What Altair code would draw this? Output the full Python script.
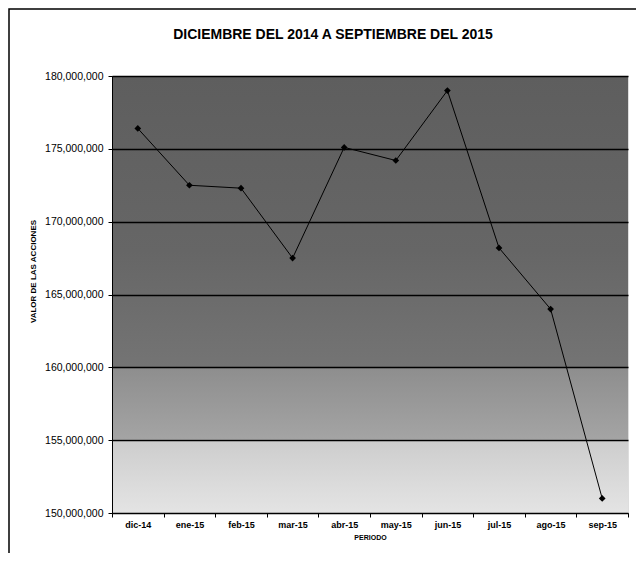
import altair as alt
import pandas as pd

titulo = "DICIEMBRE DEL 2014 A SEPTIEMBRE DEL 2015"
periodos = ["dic-14", "ene-15", "feb-15", "mar-15", "abr-15", "may-15",
            "jun-15", "jul-15", "ago-15", "sep-15"]
valores = [176400000, 172500000, 172300000, 167500000, 175100000, 174200000,
           179000000, 168200000, 164000000, 151000000]
y_ticks = [150000000, 155000000, 160000000, 165000000, 170000000, 175000000, 180000000]

df = pd.DataFrame({"periodo": periodos, "valor": valores})

W, H = 516, 437
FONT = "Liberation Sans"

xenc = alt.X("periodo:N", sort=periodos, bandPosition=0.5,
             scale=alt.Scale(type="band", paddingInner=0, paddingOuter=0),
             axis=alt.Axis(title="PERIODO", labelAngle=0, tickBand="extent",
                           labelFont=FONT, labelFontSize=9, labelFontWeight="bold",
                           labelColor="black", titleFont=FONT, titleFontSize=7,
                           titleFontWeight="bold", titleColor="black",
                           tickColor="black", domainColor="black", tickSize=4,
                           labelPadding=3, titlePadding=4, grid=False))
yenc = alt.Y("valor:Q",
             scale=alt.Scale(domain=[150000000, 180000000], nice=False, zero=False),
             axis=alt.Axis(title="VALOR DE LAS ACCIONES", values=y_ticks, format=",d",
                           labelFont=FONT, labelFontSize=10.5, labelColor="black",
                           titleFont=FONT, titleFontSize=8, titleFontWeight="bold",
                           titleColor="black", titleX=-79, titleY=195,
                           titleAlign="center", titleBaseline="middle",
                           tickColor="black", domainColor="black", tickSize=4,
                           labelPadding=5, grid=True, gridColor="black",
                           gridWidth=1.3, gridOpacity=1, zindex=1))

one = pd.DataFrame({"t": [titulo]})

bg = alt.Chart(one).mark_rect(
    color=alt.Gradient(gradient="linear", x1=0, x2=0, y1=0, y2=1, stops=[
        alt.GradientStop(offset=0, color="#5e5e5e"),
        alt.GradientStop(offset=0.4, color="#666666"),
        alt.GradientStop(offset=0.665, color="#747474"),
        alt.GradientStop(offset=0.67, color="#8e8e8e"),
        alt.GradientStop(offset=0.83, color="#a4a4a4"),
        alt.GradientStop(offset=0.835, color="#cdcdcd"),
        alt.GradientStop(offset=1, color="#e4e4e4"),
    ])
).encode(x=alt.value(0), x2=alt.value(W), y=alt.value(0), y2=alt.value(H))

frame = alt.Chart(one).mark_rect(
    fill=None, stroke="black", strokeWidth=1.5, clip=False
).encode(x=alt.value(-103), x2=alt.value(W + 40), y=alt.value(-67), y2=alt.value(H + 80))

title_txt = alt.Chart(one).mark_text(
    font=FONT, fontSize=14, fontWeight="bold", color="black",
    align="center", baseline="middle", clip=False
).encode(text="t:N", x=alt.value(221), y=alt.value(-41))

base = alt.Chart(df).encode(x=xenc, y=yenc)
line = base.mark_line(color="black", strokeWidth=1)
pts = base.mark_point(shape="diamond", filled=True, color="black", size=45, opacity=1)

chart = alt.layer(frame, bg, title_txt, line, pts).properties(
    width=W, height=H,
    autosize=alt.AutoSizeParams(type="none"),
    padding={"left": 104, "top": 68, "right": 8, "bottom": 40},
).configure_view(stroke="black", strokeWidth=1).configure(background="white")

chart.save("out.html", embed_options={"renderer": "svg", "actions": False})
